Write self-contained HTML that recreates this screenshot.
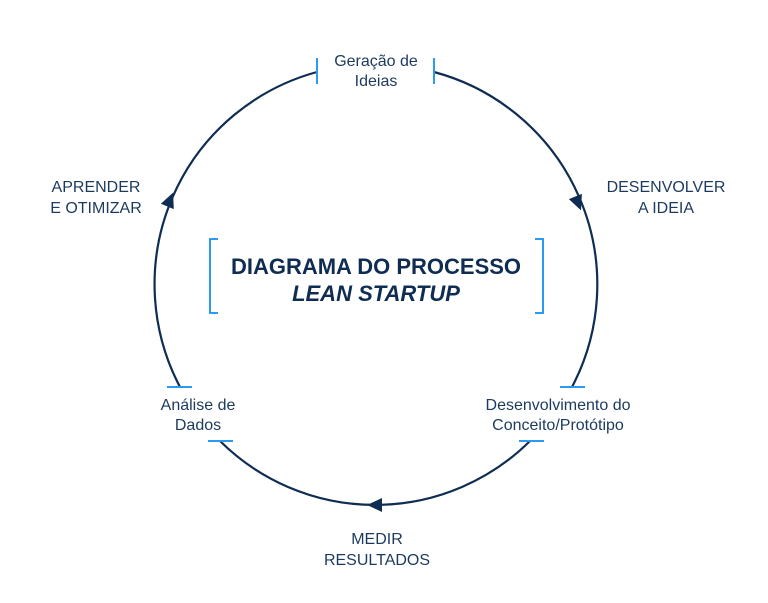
<!DOCTYPE html>
<html><head><meta charset="utf-8"><style>
html,body{margin:0;padding:0;background:#fff;}
svg{display:block;}
text{font-family:"Liberation Sans",sans-serif;fill:#1c3a5e;}
</style></head><body>
<svg width="768" height="603" viewBox="0 0 768 603" xmlns="http://www.w3.org/2000/svg">
<g fill="none" stroke="#0f2d52" stroke-width="2.2">
<path d="M434 72 A220 220 0 0 1 572 387"/>
<path d="M530 441 A220 220 0 0 1 220 441"/>
<path d="M180 387 A220 220 0 0 1 317 72"/>
</g>
<g stroke="#2a9bf0" stroke-width="2">
<line x1="317" y1="58" x2="317" y2="84"/>
<line x1="434" y1="58" x2="434" y2="84"/>
<line x1="560" y1="387" x2="585" y2="387"/>
<line x1="519" y1="441" x2="544" y2="441"/>
<line x1="167" y1="387" x2="192" y2="387"/>
<line x1="208" y1="441" x2="233" y2="441"/>
</g>
<g fill="#0f2d52">
<polygon points="8,0 -7,-7 -7,7" transform="translate(578,203) rotate(68)"/>
<polygon points="8,0 -7,-7 -7,7" transform="translate(375,505) rotate(180)"/>
<polygon points="8,0 -7,-7 -7,7" transform="translate(170,200) rotate(-67.6)"/>
</g>
<g fill="none" stroke="#2a9bf0" stroke-width="2">
<polyline points="218,239 210,239 210,313 218,313"/>
<polyline points="535,239 543,239 543,313 535,313"/>
</g>
<text x="376" y="274" text-anchor="middle" font-size="22" font-weight="bold" style="fill:#0f2d52">DIAGRAMA DO PROCESSO</text>
<text x="376" y="301" text-anchor="middle" font-size="22" font-weight="bold" font-style="italic" style="fill:#0f2d52">LEAN STARTUP</text>
<g font-size="16" text-anchor="middle">
<text x="376" y="66">Geração de</text>
<text x="376" y="86">Ideias</text>
<text x="666" y="192">DESENVOLVER</text>
<text x="666" y="213">A IDEIA</text>
<text x="96" y="192">APRENDER</text>
<text x="96" y="213">E OTIMIZAR</text>
<text x="558" y="410">Desenvolvimento do</text>
<text x="558" y="430">Conceito/Protótipo</text>
<text x="198" y="410">Análise de</text>
<text x="198" y="430">Dados</text>
<text x="377" y="544">MEDIR</text>
<text x="377" y="565">RESULTADOS</text>
</g>
</svg>
</body></html>
